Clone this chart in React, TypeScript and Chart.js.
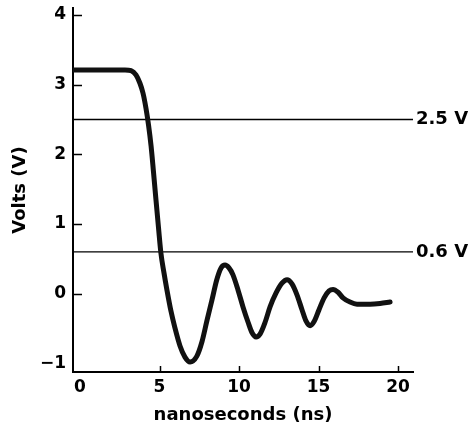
import React, { useEffect, useRef } from "react";
import { Chart, registerables } from "chart.js";

Chart.register(...registerables);

const timeNs = [-0.44, 2.83, 3.21, 3.52, 3.77, 3.96, 4.15, 4.31, 4.47, 4.62, 4.78, 4.94, 5.09, 5.28, 5.47, 5.72, 5.97, 6.29, 6.6, 6.92, 7.34, 7.67, 7.99, 8.3, 8.6, 8.87, 9.12, 9.37, 9.62, 9.94, 10.25, 10.57, 10.82, 11.07, 11.32, 11.64, 11.95, 12.33, 12.7, 13.02, 13.33, 13.65, 13.96, 14.21, 14.47, 14.72, 15.03, 15.35, 15.66, 15.91, 16.23, 16.54, 16.98, 17.42, 18.24, 18.87, 19.5];
const volts = [3.21, 3.21, 3.2, 3.14, 3.02, 2.88, 2.66, 2.42, 2.12, 1.75, 1.34, 0.94, 0.58, 0.3, 0.05, -0.25, -0.49, -0.75, -0.91, -0.98, -0.9, -0.69, -0.38, -0.09, 0.2, 0.37, 0.41, 0.37, 0.27, 0.05, -0.19, -0.41, -0.56, -0.62, -0.58, -0.41, -0.19, 0.01, 0.15, 0.2, 0.14, -0.02, -0.23, -0.39, -0.46, -0.4, -0.23, -0.06, 0.04, 0.06, 0.02, -0.06, -0.12, -0.15, -0.15, -0.14, -0.12];

const thresholdValues = [2.5, 0.6];
const thresholdLabels = ["2.5 V", "0.6 V"];

const xTicks = [0, 5, 10, 15, 20];
const yTicks = [-1, 0, 1, 2, 3, 4];
const xRange = [-0.44, 20.94];
const yRange = [-1.124, 4.1];

const FONT = "'DejaVu Sans', sans-serif";

const extrasPlugin = {
  id: "extras",
  afterDatasetsDraw(chart: any) {
    const { ctx, chartArea, scales } = chart;
    const x = scales.x;
    const y = scales.y;
    ctx.save();
    ctx.strokeStyle = "#000";
    ctx.lineWidth = 1.5;
    ctx.beginPath();
    yTicks.forEach((v) => {
      if (v === yTicks[0]) return;
      const py = Math.round(y.getPixelForValue(v)) + 0.5;
      ctx.moveTo(chartArea.left, py);
      ctx.lineTo(chartArea.left + 9, py);
    });
    xTicks.forEach((v) => {
      if (v === xTicks[0]) return;
      const px = Math.round(x.getPixelForValue(v)) + 0.5;
      ctx.moveTo(px, chartArea.bottom);
      ctx.lineTo(px, chartArea.bottom - 6);
    });
    ctx.stroke();
    ctx.fillStyle = "#000";
    ctx.font = `bold 18px ${FONT}`;
    ctx.textAlign = "left";
    ctx.textBaseline = "middle";
    thresholdValues.forEach((v, i) => {
      ctx.fillText(thresholdLabels[i], chartArea.right + 3, y.getPixelForValue(v));
    });
    ctx.restore();
  },
};

export default function App() {
  const ref = useRef<HTMLCanvasElement | null>(null);
  useEffect(() => {
    if (!ref.current) return;
    const curve = timeNs.map((t, i) => ({ x: t, y: volts[i] }));
    const thresholdSets = thresholdValues.map((v) => ({
      data: [
        { x: xRange[0], y: v },
        { x: xRange[1], y: v },
      ],
      borderColor: "#000",
      borderWidth: 1.3,
      pointRadius: 0,
      tension: 0,
      order: 2,
    }));
    const chart = new Chart(ref.current, {
      type: "line",
      data: {
        datasets: [
          {
            data: curve,
            borderColor: "#111",
            borderWidth: 5,
            pointRadius: 0,
            cubicInterpolationMode: "monotone",
            borderCapStyle: "round",
            borderJoinStyle: "round",
            order: 1,
          } as any,
          ...thresholdSets,
        ],
      },
      options: {
        animation: false,
        responsive: true,
        maintainAspectRatio: false,
        layout: { padding: { top: 8, right: 57, bottom: 0, left: 0 } },
        plugins: { legend: { display: false }, tooltip: { enabled: false } },
        scales: {
          x: {
            type: "linear",
            min: xRange[0],
            max: xRange[1],
            afterBuildTicks: (s: any) => {
              s.ticks = xTicks.map((v) => ({ value: v }));
            },
            afterFit: (s: any) => {
              s.height = 59;
              s.paddingLeft = 0;
              s.paddingRight = 0;
            },
            grid: { display: true, drawOnChartArea: false, drawTicks: false },
            border: { display: true, color: "#000", width: 2 },
            ticks: {
              color: "#000",
              padding: 5,
              maxRotation: 0,
              font: { family: FONT, size: 17, weight: "bold" },
            },
            title: {
              display: true,
              text: "nanoseconds (ns)",
              color: "#000",
              padding: { top: 0, bottom: 5 },
              font: { family: FONT, size: 18, weight: "bold" },
            },
          },
          y: {
            type: "linear",
            min: yRange[0],
            max: yRange[1],
            afterBuildTicks: (s: any) => {
              s.ticks = yTicks.map((v) => ({ value: v }));
            },
            afterFit: (s: any) => {
              s.width = 73;
              s.paddingTop = 0;
              s.paddingBottom = 0;
            },
            grid: { display: true, drawOnChartArea: false, drawTicks: false },
            border: { display: true, color: "#000", width: 2 },
            ticks: {
              color: "#000",
              padding: 7,
              font: { family: FONT, size: 17, weight: "bold" },
              callback: (v: any) => (Number(v) < 0 ? "\u2212" + Math.abs(Number(v)) : String(v)),
            },
            title: {
              display: true,
              text: "Volts (V)",
              color: "#000",
              padding: { top: 10, bottom: 0 },
              font: { family: FONT, size: 18, weight: "bold" },
            },
          },
        },
      },
      plugins: [extrasPlugin],
    });
    return () => chart.destroy();
  }, []);
  return (
    <div style={{ position: "fixed", left: 0, top: 0, width: 470, height: 431, background: "#fff" }}>
      <canvas ref={ref} />
    </div>
  );
}
